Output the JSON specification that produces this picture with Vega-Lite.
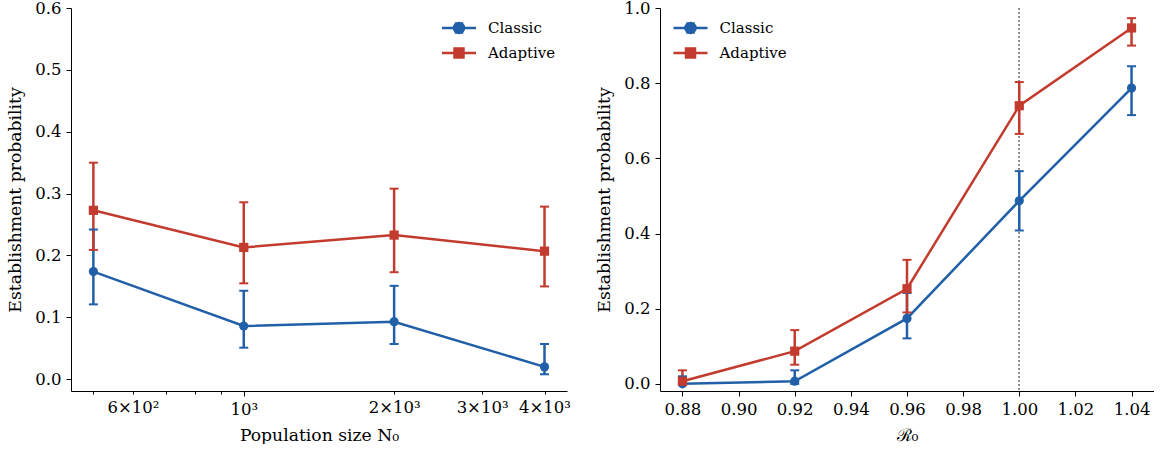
{
  "$schema": "https://vega.github.io/schema/vega-lite/v6.json",
  "background": "white",
  "padding": {"left": 6, "top": 0, "right": 0, "bottom": 0},
  "spacing": 24,
  "config": {
    "view": {"stroke": null},
    "font": "DejaVu Serif",
    "axis": {
      "grid": false, "domainColor": "black", "tickColor": "black", "domainWidth": 1, "tickWidth": 1,
      "tickSize": 5, "labelFont": "DejaVu Serif", "labelFontSize": 16.5, "labelColor": "black",
      "titleFont": "DejaVu Serif", "titleFontSize": 17.2, "titleFontWeight": "normal", "titleColor": "black",
      "labelPadding": 5
    },
    "axisX": {"titlePadding": 9},
    "axisY": {"titlePadding": 10},
    "legend": {"labelFont": "DejaVu Serif", "labelFontSize": 15, "labelColor": "black", "title": null, "padding": 0}
  },
  "datasets": {
    "left": [
      {"N": 500, "series": "Classic", "p": 0.174, "lo": 0.121, "hi": 0.242},
      {"N": 1000, "series": "Classic", "p": 0.086, "lo": 0.051, "hi": 0.143},
      {"N": 2000, "series": "Classic", "p": 0.093, "lo": 0.057, "hi": 0.151},
      {"N": 4000, "series": "Classic", "p": 0.020, "lo": 0.008, "hi": 0.057},
      {"N": 500, "series": "Adaptive", "p": 0.273, "lo": 0.209, "hi": 0.350},
      {"N": 1000, "series": "Adaptive", "p": 0.213, "lo": 0.155, "hi": 0.286},
      {"N": 2000, "series": "Adaptive", "p": 0.233, "lo": 0.173, "hi": 0.308},
      {"N": 4000, "series": "Adaptive", "p": 0.207, "lo": 0.150, "hi": 0.279}
    ],
    "right": [
      {"R": 0.88, "series": "Classic", "p": 0.000, "lo": 0.000, "hi": 0.020},
      {"R": 0.92, "series": "Classic", "p": 0.007, "lo": 0.000, "hi": 0.036},
      {"R": 0.96, "series": "Classic", "p": 0.174, "lo": 0.121, "hi": 0.242},
      {"R": 1.00, "series": "Classic", "p": 0.487, "lo": 0.408, "hi": 0.566},
      {"R": 1.04, "series": "Classic", "p": 0.787, "lo": 0.715, "hi": 0.845},
      {"R": 0.88, "series": "Adaptive", "p": 0.007, "lo": 0.000, "hi": 0.036},
      {"R": 0.92, "series": "Adaptive", "p": 0.087, "lo": 0.051, "hi": 0.143},
      {"R": 0.96, "series": "Adaptive", "p": 0.253, "lo": 0.190, "hi": 0.330},
      {"R": 1.00, "series": "Adaptive", "p": 0.740, "lo": 0.665, "hi": 0.803},
      {"R": 1.04, "series": "Adaptive", "p": 0.947, "lo": 0.900, "hi": 0.973}
    ]
  },
  "resolve": {"scale": {"color": "independent"}, "legend": {"color": "independent"}},
  "hconcat": [
    {
      "width": 496, "height": 383,
      "data": {"name": "left"},
      "encoding": {
        "x": {"field": "N", "type": "quantitative",
          "scale": {"type": "log", "domain": [451, 4437], "nice": false},
          "axis": {"title": "Population size N₀", "values": [500, 600, 700, 800, 900, 1000, 2000, 3000, 4000],
            "tickSize": {"condition": {"test": "datum.value == 1000", "value": 5}, "value": 3},
            "labelExpr": "datum.value == 600 ? '6×10²' : datum.value == 1000 ? '10³' : datum.value == 2000 ? '2×10³' : datum.value == 3000 ? '3×10³' : datum.value == 4000 ? '4×10³' : ''"}},
        "color": {"field": "series", "type": "nominal",
          "scale": {"domain": ["Classic", "Adaptive"], "range": ["#2160a8", "#c23b2e"]},
          "legend": {"orient": "none", "legendX": 375, "legendY": 7, "symbolSize": 529, "labelOffset": 16, "rowPadding": 1, "symbolStrokeWidth": 2.5,
            "encode": {"symbols": {"update": {
              "shape": {"signal": "datum.value === 'Classic' ? 'M-1.48,0H1.48M0,-0.39V0.39M-0.37,-0.39H0.37M-0.37,0.39H0.37M0.435,0A0.435,0.435,0,1,1,-0.435,0A0.435,0.435,0,1,1,0.435,0Z' : 'M-1.48,0H1.48M0,-0.39V0.39M-0.37,-0.39H0.37M-0.37,0.39H0.37M-0.39,-0.39H0.39V0.39H-0.39Z'"},
              "fill": {"signal": "datum.value === 'Classic' ? '#2160a8' : '#c23b2e'"},
              "stroke": {"signal": "datum.value === 'Classic' ? '#2160a8' : '#c23b2e'"},
              "strokeWidth": {"value": 2.5}, "opacity": {"value": 1}}}}}}
      },
      "layer": [
        {"mark": {"type": "line", "strokeWidth": 2.5},
          "encoding": {"y": {"field": "p", "type": "quantitative",
            "scale": {"domain": [-0.019, 0.6], "nice": false, "zero": false},
            "axis": {"title": "Establishment probability", "values": [0, 0.1, 0.2, 0.3, 0.4, 0.5, 0.6], "format": ".1f"}}}},
        {"mark": {"type": "rule", "strokeWidth": 2.5},
          "encoding": {"y": {"field": "lo", "type": "quantitative"}, "y2": {"field": "hi"}}},
        {"mark": {"type": "tick", "orient": "horizontal", "size": 9, "thickness": 2, "opacity": 1},
          "encoding": {"y": {"field": "lo", "type": "quantitative"}}},
        {"mark": {"type": "tick", "orient": "horizontal", "size": 9, "thickness": 2, "opacity": 1},
          "encoding": {"y": {"field": "hi", "type": "quantitative"}}},
        {"mark": {"type": "point", "filled": true, "opacity": 1, "size": 85},
          "encoding": {"y": {"field": "p", "type": "quantitative"},
            "shape": {"field": "series", "type": "nominal", "scale": {"domain": ["Classic", "Adaptive"], "range": ["circle", "square"]}, "legend": null}}}
      ]
    },
    {
      "width": 494, "height": 383,
      "data": {"name": "right"},
      "encoding": {
        "x": {"field": "R", "type": "quantitative",
          "scale": {"domain": [0.872, 1.048], "nice": false, "zero": false},
          "axis": {"title": "ℛ₀", "values": [0.88, 0.9, 0.92, 0.94, 0.96, 0.98, 1.0, 1.02, 1.04], "format": ".2f"}},
        "color": {"field": "series", "type": "nominal",
          "scale": {"domain": ["Classic", "Adaptive"], "range": ["#2160a8", "#c23b2e"]},
          "legend": {"orient": "none", "legendX": 17.5, "legendY": 7, "symbolSize": 529, "labelOffset": 16, "rowPadding": 1, "symbolStrokeWidth": 2.5,
            "encode": {"symbols": {"update": {
              "shape": {"signal": "datum.value === 'Classic' ? 'M-1.48,0H1.48M0,-0.39V0.39M-0.37,-0.39H0.37M-0.37,0.39H0.37M0.435,0A0.435,0.435,0,1,1,-0.435,0A0.435,0.435,0,1,1,0.435,0Z' : 'M-1.48,0H1.48M0,-0.39V0.39M-0.37,-0.39H0.37M-0.37,0.39H0.37M-0.39,-0.39H0.39V0.39H-0.39Z'"},
              "fill": {"signal": "datum.value === 'Classic' ? '#2160a8' : '#c23b2e'"},
              "stroke": {"signal": "datum.value === 'Classic' ? '#2160a8' : '#c23b2e'"},
              "strokeWidth": {"value": 2.5}, "opacity": {"value": 1}}}}}}
      },
      "layer": [
        {"mark": {"type": "rule", "color": "#888888", "strokeWidth": 1, "strokeDash": [1.5, 2.5]},
          "encoding": {"x": {"datum": 1.0}, "color": {"value": "#888888"}}},
        {"mark": {"type": "line", "strokeWidth": 2.5},
          "encoding": {"y": {"field": "p", "type": "quantitative",
            "scale": {"domain": [-0.019, 1.0], "nice": false, "zero": false},
            "axis": {"title": "Establishment probability", "values": [0, 0.2, 0.4, 0.6, 0.8, 1.0], "format": ".1f"}}}},
        {"mark": {"type": "rule", "strokeWidth": 2.5},
          "encoding": {"y": {"field": "lo", "type": "quantitative"}, "y2": {"field": "hi"}}},
        {"mark": {"type": "tick", "orient": "horizontal", "size": 9, "thickness": 2, "opacity": 1},
          "encoding": {"y": {"field": "lo", "type": "quantitative"}}},
        {"mark": {"type": "tick", "orient": "horizontal", "size": 9, "thickness": 2, "opacity": 1},
          "encoding": {"y": {"field": "hi", "type": "quantitative"}}},
        {"mark": {"type": "point", "filled": true, "opacity": 1, "size": 85},
          "encoding": {"y": {"field": "p", "type": "quantitative"},
            "shape": {"field": "series", "type": "nominal", "scale": {"domain": ["Classic", "Adaptive"], "range": ["circle", "square"]}, "legend": null}}}
      ]
    }
  ]
}
